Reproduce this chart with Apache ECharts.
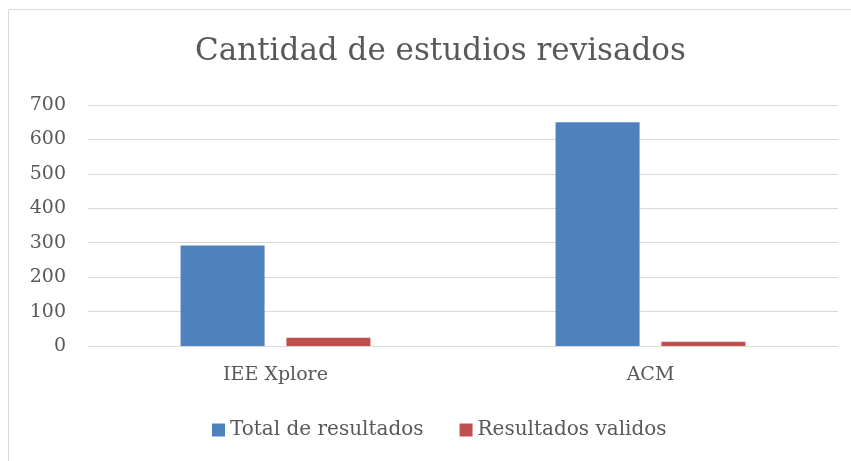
<!DOCTYPE html>
<html>
<head>
<meta charset="utf-8">
<script src="https://cdn.jsdelivr.net/npm/echarts@6/dist/echarts.min.js"></script>
<style>
  html, body { margin: 0; padding: 0; background: #fff; }
  #chart { width: 851px; height: 461px; }
</style>
</head>
<body>
<div id="chart"></div>
<script>
var categories = ['IEE Xplore', 'ACM'];
var totalResultados = [292, 650];
var resultadosValidos = [24, 12];
var yTicks = [0, 700, 100];

var font = 'DejaVu Serif';
var chart = echarts.init(document.getElementById('chart'));
chart.setOption({
  animation: false,
  backgroundColor: '#fff',
  textStyle: { fontFamily: font, color: '#595959' },
  graphic: [{
    type: 'rect',
    shape: { x: 8.5, y: 9.5, width: 900, height: 500 },
    style: { fill: 'none', stroke: '#d9d9d9', lineWidth: 1 },
    silent: true
  }],
  title: {
    text: 'Cantidad de estudios revisados',
    left: 190,
    top: 31,
    textStyle: { fontFamily: font, fontSize: 31, fontWeight: 'normal', color: '#595959' }
  },
  legend: {
    bottom: 16,
    left: 207,
    itemWidth: 13,
    itemHeight: 13,
    itemGap: 36,
    icon: 'rect',
    textStyle: { fontFamily: font, fontSize: 20, color: '#595959' },
    data: ['Total de resultados', 'Resultados validos']
  },
  grid: { left: 88, right: 13, top: 105, bottom: 115, containLabel: false },
  xAxis: {
    type: 'category',
    data: categories,
    axisLine: { lineStyle: { color: '#d9d9d9', width: 1 } },
    axisTick: { show: false },
    axisLabel: { fontFamily: font, fontSize: 19, color: '#595959', margin: 20 }
  },
  yAxis: {
    type: 'value',
    min: yTicks[0],
    max: yTicks[1],
    interval: yTicks[2],
    axisLine: { show: false },
    axisTick: { show: false },
    splitLine: { lineStyle: { color: '#d9d9d9', width: 1 } },
    axisLabel: { fontFamily: font, fontSize: 19, color: '#595959', margin: 22 }
  },
  series: [
    {
      name: 'Total de resultados',
      type: 'bar',
      data: totalResultados,
      barWidth: 84,
      barGap: '26%',
      itemStyle: { color: '#4f81bd' }
    },
    {
      name: 'Resultados validos',
      type: 'bar',
      data: resultadosValidos,
      barWidth: 84,
      itemStyle: { color: '#c0504d' }
    }
  ]
});
</script>
</body>
</html>
